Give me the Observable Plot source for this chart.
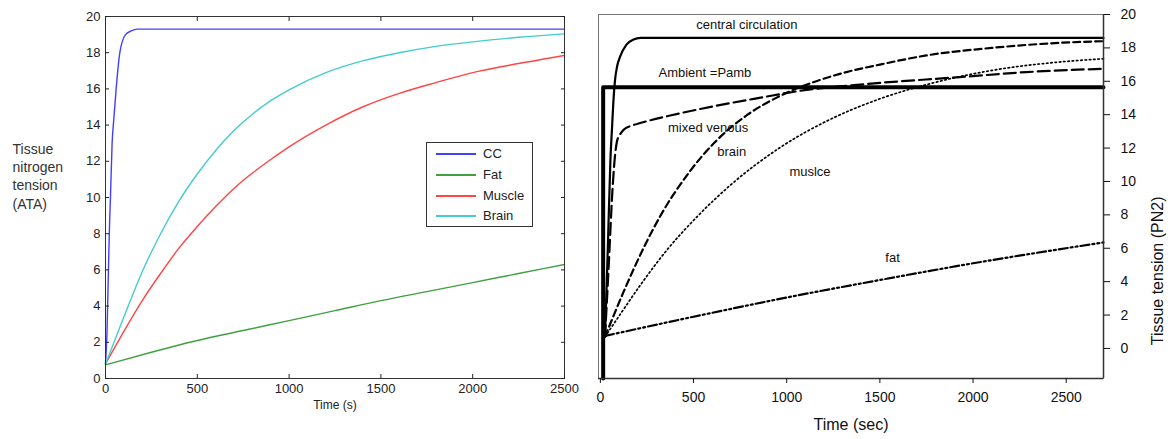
<!DOCTYPE html>
<html><head><meta charset="utf-8">
<script src="https://cdn.jsdelivr.net/npm/d3@7"></script>
<script src="https://cdn.jsdelivr.net/npm/@observablehq/plot@0.6"></script>
<style>
body{margin:0;background:#fff;font-family:"Liberation Sans",Arial,sans-serif;}
#wrap{position:relative;width:1168px;height:439px;overflow:hidden;background:#fff;}
#left{position:absolute;left:0;top:0;}
#right{position:absolute;left:580px;top:0;}
#legend{position:absolute;left:426px;top:142px;width:105px;height:83px;border:1px solid #333;background:#fff;font-size:13px;color:#222;}
#legend .row{position:absolute;left:0;height:20px;width:100%;}
#legend .sw{position:absolute;left:9px;width:40px;top:9px;height:0;border-top:2px solid;}
#legend .lb{position:absolute;left:56px;top:2px;line-height:16px;}
</style></head>
<body>
<div id="wrap">
  <div id="left"></div>
  <div id="right"></div>
  <div id="legend"></div>
</div>
<script>
// ---------- Left chart data ----------
const leftSeries = ["CC", "Fat", "Muscle", "Brain"];
const leftColors = ["#4040ff", "#40a040", "#ff4545", "#45cccc"];
const ccT = [0, 8, 16, 22, 27, 36, 45, 58, 78, 109, 140, 174, 2500];
const ccV = [0.8, 2.5, 6, 8.5, 10, 13, 14.3, 16, 18, 19, 19.2, 19.3, 19.3];
const fatT = [0, 250, 500, 750, 1000, 1250, 1500, 1750, 2000, 2250, 2500];
const fatV = [0.75, 1.45, 2.1, 2.65, 3.2, 3.75, 4.3, 4.8, 5.3, 5.8, 6.3];
const muscleT = [0, 100, 200, 300, 400, 500, 600, 700, 800, 900, 1000, 1200, 1400, 1600, 1800, 2000, 2250, 2500];
const muscleV = [0.8, 2.6, 4.3, 5.8, 7.2, 8.4, 9.5, 10.5, 11.35, 12.1, 12.8, 14.0, 15.0, 15.75, 16.35, 16.9, 17.4, 17.85];
const brainT = [0, 100, 200, 300, 400, 500, 600, 700, 800, 900, 1000, 1200, 1400, 1600, 1800, 2000, 2250, 2500];
const brainV = [0.8, 3.4, 5.9, 8.0, 9.8, 11.3, 12.6, 13.7, 14.6, 15.35, 15.95, 16.9, 17.55, 18.0, 18.35, 18.6, 18.85, 19.04];
const leftXTicks = [0, 500, 1000, 1500, 2000, 2500];
const leftYTicks = [0, 2, 4, 6, 8, 10, 12, 14, 16, 18, 20];
const leftYLabel = "Tissue\nnitrogen\ntension\n(ATA)";
const leftXLabel = "Time (s)";

// ---------- Right chart data ----------
const pambT = [15, 15, 2700];
const pambV = [-1.8, 15.65, 15.65];
const centralT = [25, 40, 54, 63, 70, 78, 90, 107, 140, 178, 215, 2700];
const centralV = [0.7, 6, 11.3, 13.3, 14.8, 16, 16.9, 17.5, 18.2, 18.5, 18.6, 18.6];
const venousT = [25, 45, 65, 80, 89, 105, 125, 170, 214, 375, 607, 875, 1054, 1393, 1928, 2286, 2700];
const venousV = [0.7, 5, 9.5, 11.7, 12.4, 12.8, 13.1, 13.35, 13.5, 13.95, 14.5, 15.05, 15.4, 15.8, 16.25, 16.55, 16.75];
const rBrainT = [25, 125, 240, 320, 480, 610, 790, 960, 1120, 1320, 1500, 1750, 2100, 2460, 2700];
const rBrainV = [0.7, 3.4, 6.2, 7.9, 10.6, 12.3, 14.0, 15.1, 15.85, 16.55, 17.0, 17.55, 18.0, 18.3, 18.4];
const rMuscleT = [25, 110, 215, 365, 520, 700, 960, 1230, 1500, 1750, 2100, 2460, 2700];
const rMuscleV = [0.7, 2.1, 3.8, 6.0, 7.9, 9.8, 12.0, 13.7, 14.95, 15.8, 16.65, 17.15, 17.35];
const rFatT = [25, 500, 1000, 1500, 2000, 2700];
const rFatV = [0.75, 1.9, 3.05, 4.1, 5.1, 6.35];
const rightXDomain = [-10, 2700];
const rightYDomain = [-1.8, 20];
const rightXTicks = [0, 500, 1000, 1500, 2000, 2500];
const rightYTicks = [0, 2, 4, 6, 8, 10, 12, 14, 16, 18, 20];
const annText = ["central circulation", "Ambient =Pamb", "mixed venous", "brain", "muslce", "fat"];
const annT = [786, 561, 578, 705, 1125, 1568];
const annV = [19.4, 16.5, 13.2, 11.8, 10.6, 5.4];
const rightXLabel = "Time (sec)";
const rightYLabel = "Tissue tension (PN2)";

const zip = (T, V) => T.map((t, i) => ({t, v: V[i]}));
const fmt = d => String(d);

// ---------- Left chart ----------
const leftData = [zip(ccT, ccV), zip(fatT, fatV), zip(muscleT, muscleV), zip(brainT, brainV)];
const leftPlot = Plot.plot({
  width: 580, height: 439,
  marginLeft: 105, marginRight: 16, marginTop: 16, marginBottom: 61,
  style: {fontFamily: "Liberation Sans, Arial, sans-serif", fontSize: "13px", color: "#222", background: "transparent"},
  x: {domain: [0, 2500]},
  y: {domain: [0, 20]},
  marks: [
    ...leftData.map((d, i) => Plot.line(d, {x: "t", y: "v", stroke: leftColors[i], strokeWidth: 1.4, curve: "monotone-x"})),
    Plot.frame({stroke: "#333"}),
    Plot.axisX(leftXTicks, {anchor: "bottom", tickSize: -4, tickPadding: 9, label: null, fontSize: 13, tickFormat: fmt}),
    Plot.axisX(leftXTicks, {anchor: "top", tickSize: -4, tickFormat: () => "", label: null}),
    Plot.axisY(leftYTicks, {anchor: "left", tickSize: -4, tickPadding: 9, label: null, fontSize: 13, tickFormat: fmt}),
    Plot.axisY(leftYTicks, {anchor: "right", tickSize: -4, tickFormat: () => "", label: null}),
    Plot.text([leftXLabel], {frameAnchor: "bottom", dy: 30, fontSize: 12, fill: "#222"}),
    Plot.text([leftYLabel], {frameAnchor: "left", dx: -93, dy: -22, textAnchor: "start", lineHeight: 1.3, fontSize: 14, fill: "#333"})
  ]
});
document.getElementById("left").append(leftPlot);

// legend
const leg = document.getElementById("legend");
const rowTops = [1, 22, 43, 63];
leftSeries.forEach((s, i) => {
  const r = document.createElement("div");
  r.className = "row";
  r.style.top = rowTops[i] + "px";
  r.innerHTML = `<div class="sw" style="border-color:${leftColors[i]}"></div><div class="lb">${s}</div>`;
  leg.append(r);
});

// ---------- Right chart ----------
const rightPlot = Plot.plot({
  width: 588, height: 439,
  marginLeft: 18, marginRight: 65, marginTop: 14, marginBottom: 61,
  style: {fontFamily: "Liberation Sans, Arial, sans-serif", fontSize: "14px", color: "#111", background: "transparent"},
  x: {domain: rightXDomain},
  y: {domain: rightYDomain},
  marks: [
    Plot.frame({stroke: "#777"}),
    Plot.line(zip(rFatT, rFatV), {x: "t", y: "v", stroke: "#000", strokeWidth: 2.2, strokeDasharray: "9,3,2,3,2,3", curve: "monotone-x"}),
    Plot.line(zip(rMuscleT, rMuscleV), {x: "t", y: "v", stroke: "#000", strokeWidth: 1.7, strokeDasharray: "1.5,2.8", curve: "monotone-x"}),
    Plot.line(zip(rBrainT, rBrainV), {x: "t", y: "v", stroke: "#000", strokeWidth: 2.2, strokeDasharray: "7,4", curve: "monotone-x"}),
    Plot.line(zip(venousT, venousV), {x: "t", y: "v", stroke: "#000", strokeWidth: 2.2, strokeDasharray: "12,5", curve: "monotone-x"}),
    Plot.line(zip(centralT, centralV), {x: "t", y: "v", stroke: "#000", strokeWidth: 2.2, curve: "monotone-x"}),
    Plot.line(zip(pambT, pambV), {x: "t", y: "v", stroke: "#000", strokeWidth: 4}),
    Plot.ruleY(rightYDomain.slice(0, 1), {stroke: "#333", strokeWidth: 1.5}),
    Plot.ruleX(rightXDomain.slice(1), {stroke: "#333", strokeWidth: 1.5}),
    Plot.axisX(rightXTicks, {anchor: "bottom", tickSize: 5, tickPadding: 9, label: null, fontSize: 14, tickFormat: fmt}),
    Plot.axisY(rightYTicks, {anchor: "right", tickSize: 6, tickPadding: 11, label: null, fontSize: 14, tickFormat: fmt}),
    Plot.text(annText.map((s, i) => ({s, t: annT[i], v: annV[i]})), {x: "t", y: "v", text: "s", fontSize: 13, fill: "#111"}),
    Plot.text([rightXLabel], {frameAnchor: "bottom", dy: 51, fontSize: 16, fill: "#111"}),
    Plot.text([rightYLabel], {frameAnchor: "right", dx: 54, rotate: -90, fontSize: 16, fill: "#111"})
  ]
});
document.getElementById("right").append(rightPlot);
</script>
</body></html>
